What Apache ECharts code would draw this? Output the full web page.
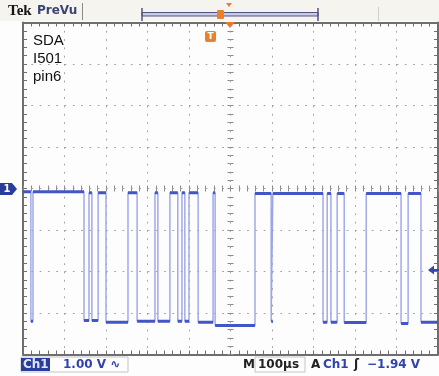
<!DOCTYPE html>
<html><head><meta charset="utf-8">
<script src="https://cdn.jsdelivr.net/npm/echarts@6/dist/echarts.min.js"></script>
<style>html,body{margin:0;padding:0;background:#fff}#c{width:439px;height:376px}</style>
</head><body><div id="c"></div>
<script>
// time axis (µs), 100 µs/div, trigger at centre
const timeRangeUs = [-500, 500];
const timeDivUs = 100;
// volt axis, 1.00 V/div, ground at centre
const voltRange = [-4, 4];
const voltDiv = 1;
// SDA transition instants (µs)
const edgeTimesUs = [-481,-476,-353,-341,-334,-319,-300,-247,-225,-182,-175,-146,-127,-117,-110,-100,-78,-42,-37,59,98,102,223,233,242,257,274,327,411,428,459];
// level (V) of each segment between transitions (alternating high / low)
const segmentLevelsV = [-0.08,-3.2,-0.08,-3.18,-0.1,-3.18,-0.1,-3.22,-0.1,-3.2,-0.1,-3.2,-0.1,-3.2,-0.1,-3.2,-0.1,-3.22,-0.1,-3.3,-0.12,-3.2,-0.12,-3.22,-0.12,-3.22,-0.12,-3.23,-0.12,-3.25,-0.12,-3.22];
// labels
const noteLines = ['SDA','I501','pin6'];
const chScaleText = '1.00 V';
const timebaseText = '100µs';
const triggerLevelText = '−1.94';

const bounds = [timeRangeUs[0], ...edgeTimesUs, timeRangeUs[1]];
const trace = [];
trace.push([bounds[0], segmentLevelsV[0]]);
edgeTimesUs.forEach((t, i) => { trace.push([t, segmentLevelsV[i]]); trace.push([t, segmentLevelsV[i + 1]]); });
trace.push([bounds[bounds.length - 1], segmentLevelsV[segmentLevelsV.length - 1]]);
const plateaus = [];
for (let i = 0; i < segmentLevelsV.length; i++) {
  plateaus.push([bounds[i], segmentLevelsV[i]], [bounds[i + 1], segmentLevelsV[i]], [bounds[i + 1], '-']);
}

const chart = echarts.init(document.getElementById('c'), null, {renderer: 'canvas'});
const borderCol = '#6e6e6e';
const dotted = {show: true, lineStyle: {color: '#a2a2a2', width: 1, type: [1.8, 6.5]}};
function xAx(extra) {
  return Object.assign({type: 'value', min: timeRangeUs[0], max: timeRangeUs[1], interval: timeDivUs,
    axisLabel: {show: false}, splitLine: {show: false}}, extra);
}
function yAx(extra) {
  return Object.assign({type: 'value', min: voltRange[0], max: voltRange[1], interval: voltDiv,
    axisLabel: {show: false}, splitLine: {show: false}}, extra);
}
const borderLine = {show: true, onZero: false, lineStyle: {color: borderCol, width: 2}};
const borderTick = {show: true, inside: true, length: 4, lineStyle: {color: borderCol, width: 1}};
const borderMinor = {show: true, splitNumber: 5, length: 4, lineStyle: {color: borderCol, width: 1}};
const centreLine = (idx) => ({show: false, onZero: true, onZeroAxisIndex: idx});
const cTick = (inside) => ({show: true, inside: inside, length: 3, lineStyle: {color: '#8c8c8c', width: 1}});
const cMinor = {show: true, splitNumber: 5, length: 3, lineStyle: {color: '#8c8c8c', width: 1}};

const blue = '#2f42ad';
const font = (s, w) => (w || 'bold') + ' ' + s + 'px "DejaVu Sans"';
const graphics = [
  {type: 'rect', shape: {x: 0, y: 0, width: 439, height: 21}, style: {fill: '#f6f4ef'}, z: -10},
  {type: 'text', style: {text: 'Tek', x: 8, y: 11, font: 'bold 15px "Liberation Serif"', fill: '#151515', verticalAlign: 'middle'}},
  {type: 'text', style: {text: 'PreVu', x: 37, y: 11, font: font(12), fill: '#3a4470', verticalAlign: 'middle'}},
  {type: 'line', shape: {x1: 82.5, y1: 3, x2: 82.5, y2: 20}, style: {stroke: '#8a8a8a', lineWidth: 1}},
  {type: 'rect', shape: {x: 142, y: 12.5, width: 176, height: 3.5}, style: {fill: '#c9cbe4', stroke: '#4f5480', lineWidth: 1}},
  {type: 'line', shape: {x1: 142, y1: 8, x2: 142, y2: 21}, style: {stroke: '#4f5480', lineWidth: 1.5}},
  {type: 'line', shape: {x1: 318, y1: 8, x2: 318, y2: 21}, style: {stroke: '#4f5480', lineWidth: 1.5}},
  {type: 'rect', shape: {x: 217, y: 10, width: 7, height: 9, r: 1}, style: {fill: '#e8802e'}},
  {type: 'polygon', shape: {points: [[226, 3], [232, 3], [229, 7]]}, style: {fill: '#e8802e'}},
  {type: 'line', shape: {x1: 378.5, y1: 7, x2: 378.5, y2: 21}, style: {stroke: '#cfcfcf', lineWidth: 1}},
  {type: 'polygon', shape: {points: [[225, 22], [235, 22], [230, 28]]}, style: {fill: '#e8792a'}, z: 10},
  {type: 'rect', shape: {x: 205, y: 31, width: 11, height: 11, r: 2}, style: {fill: '#e8802e'}, z: 10},
  {type: 'text', style: {text: 'T', x: 210.5, y: 36.5, font: 'bold 9px "DejaVu Sans"', fill: '#fff', align: 'center', verticalAlign: 'middle'}, z: 11},
  {type: 'polygon', shape: {points: [[0, 183], [12, 183], [17, 189], [12, 195], [0, 195]]}, style: {fill: '#2b3d9c'}, z: 10},
  {type: 'text', style: {text: '1', x: 7, y: 189.5, font: 'bold 10px "DejaVu Sans"', fill: '#fff', align: 'center', verticalAlign: 'middle'}, z: 11},
  {type: 'polygon', shape: {points: [[428, 270], [434, 265.5], [434, 274.5]]}, style: {fill: '#3446b2'}, z: 10},
  {type: 'line', shape: {x1: 433, y1: 270, x2: 439, y2: 270}, style: {stroke: '#3446b2', lineWidth: 2}, z: 10},
  {type: 'rect', shape: {x: 21, y: 357, width: 107, height: 15}, style: {fill: 'none', stroke: '#c4c4c4', lineWidth: 1}},
  {type: 'rect', shape: {x: 21, y: 358, width: 29, height: 13}, style: {fill: '#2b3d9c'}},
  {type: 'text', style: {text: 'Ch1', x: 23, y: 365, font: font(12), fill: '#dfe6ff', verticalAlign: 'middle'}},
  {type: 'text', style: {text: chScaleText + ' ∿', x: 63, y: 365, font: font(12), fill: blue, verticalAlign: 'middle'}},
  {type: 'text', style: {text: 'M', x: 243, y: 365, font: font(12), fill: '#222', verticalAlign: 'middle'}},
  {type: 'rect', shape: {x: 255, y: 357, width: 50, height: 15}, style: {fill: 'none', stroke: '#c4c4c4', lineWidth: 1}},
  {type: 'text', style: {text: timebaseText, x: 258, y: 365, font: font(12), fill: '#222', verticalAlign: 'middle'}},
  {type: 'text', style: {text: 'A', x: 311, y: 365, font: font(12), fill: '#222', verticalAlign: 'middle'}},
  {type: 'text', style: {text: 'Ch1', x: 323, y: 365, font: font(12), fill: blue, verticalAlign: 'middle'}},
  {type: 'text', style: {text: 'ʃ', x: 354, y: 365, font: font(12), fill: '#222', verticalAlign: 'middle'}},
  {type: 'text', style: {text: triggerLevelText + ' V', x: 367, y: 365, font: font(12), fill: blue, verticalAlign: 'middle'}}
];
noteLines.forEach((s, i) => graphics.push({type: 'text', style: {text: s, x: 33, y: 41 + i * 18, font: '15px "Liberation Sans"', fill: '#111', verticalAlign: 'middle'}, z: 5}));

chart.setOption({
  animation: false,
  backgroundColor: '#fdfdfd',
  grid: {left: 23, top: 22.5, width: 415, height: 332, containLabel: false},
  xAxis: [
    xAx({position: 'bottom', axisLine: borderLine, axisTick: borderTick, minorTick: borderMinor, splitLine: dotted}),
    xAx({position: 'top', axisLine: borderLine, axisTick: borderTick, minorTick: borderMinor}),
    xAx({position: 'bottom', axisLine: centreLine(0), axisTick: cTick(true), minorTick: cMinor}),
    xAx({position: 'bottom', axisLine: centreLine(0), axisTick: cTick(false), minorTick: cMinor})
  ],
  yAxis: [
    yAx({position: 'left', axisLine: borderLine, axisTick: borderTick, minorTick: borderMinor, splitLine: dotted}),
    yAx({position: 'right', axisLine: borderLine, axisTick: borderTick, minorTick: borderMinor}),
    yAx({position: 'left', axisLine: centreLine(0), axisTick: cTick(true), minorTick: cMinor}),
    yAx({position: 'left', axisLine: centreLine(0), axisTick: cTick(false), minorTick: cMinor})
  ],
  series: [
    {type: 'line', xAxisIndex: 0, yAxisIndex: 0, data: trace, showSymbol: false, symbol: 'none',
      lineStyle: {color: '#9aa4e8', width: 1.4}, z: 3},
    {type: 'line', xAxisIndex: 0, yAxisIndex: 0, data: plateaus, showSymbol: false, symbol: 'none', connectNulls: false,
      lineStyle: {color: '#4256c6', width: 3}, z: 4}
  ],
  graphic: graphics
});
</script></body></html>
